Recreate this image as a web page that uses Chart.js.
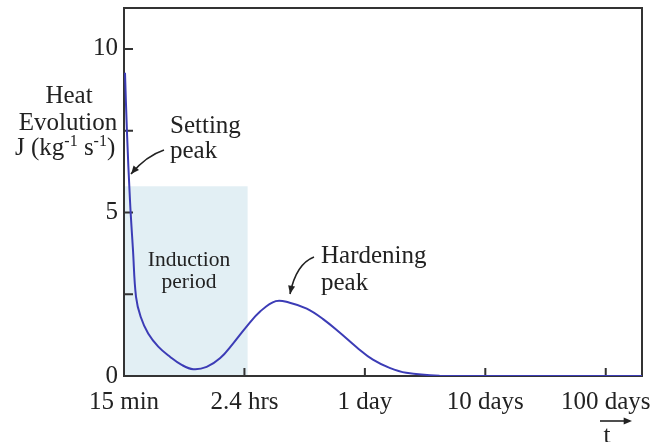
<!DOCTYPE html>
<html>
<head>
<meta charset="utf-8">
<script src="https://cdn.jsdelivr.net/npm/chart.js@4.4.1/dist/chart.umd.min.js"></script>
<style>
    html, body { margin: 0; padding: 0; background: #fff; }
    canvas { display: block; }
</style>
</head>
<body>
<canvas id="chart1" width="670" height="442"></canvas>
<script>
// time in hours (log axis), heat evolution in J/(kg s)
const hours = [0.2446, 0.254, 0.269, 0.285, 0.302, 0.330, 0.381, 0.462, 0.578, 0.723, 0.902, 1.166, 1.503, 1.937, 2.50, 3.24, 4.37, 5.7, 7.9, 10.8, 14.9, 20.5, 28.0, 38.5, 52.9, 100, 240, 4800];
const heat = [9.27, 7.46, 5.38, 3.85, 2.42, 1.81, 1.30, 0.90, 0.59, 0.34, 0.21, 0.28, 0.54, 1.00, 1.51, 1.97, 2.29, 2.24, 2.06, 1.74, 1.32, 0.88, 0.50, 0.25, 0.10, 0.01, 0.0, 0.0];

const tickHours = [0.24, 2.4, 24, 240, 2400];
const tickLabels = ['15 min', '2.4 hrs', '1 day', '10 days', '100 days'];
const yTicks = [0, 2.5, 5, 7.5, 10];

// induction period box
const induction = [0.24, 2.55];
const inductionTop = 5.8;

const serif = '"Liberation Serif", "DejaVu Serif", serif';
const ink = '#222';

function arrowHead(ctx, x, y, angle, size) {
    ctx.beginPath();
    ctx.moveTo(x, y);
    ctx.lineTo(x - size * Math.cos(angle - 0.4), y - size * Math.sin(angle - 0.4));
    ctx.lineTo(x - size * Math.cos(angle + 0.4), y - size * Math.sin(angle + 0.4));
    ctx.closePath();
    ctx.fill();
}

function curvedArrow(ctx, x0, y0, cx, cy, x1, y1) {
    ctx.beginPath();
    ctx.moveTo(x0, y0);
    ctx.quadraticCurveTo(cx, cy, x1, y1);
    ctx.stroke();
    arrowHead(ctx, x1, y1, Math.atan2(y1 - cy, x1 - cx), 9);
}

const decor = {
    id: 'decor',
    beforeDatasetsDraw(chart) {
        const {ctx, chartArea: a, scales: {x, y}} = chart;
        const left = x.getPixelForValue(induction[0]);
        const right = x.getPixelForValue(induction[1]);
        const top = y.getPixelForValue(inductionTop);
        ctx.save();
        ctx.fillStyle = '#e2eff4';
        ctx.fillRect(left, top, right - left, y.getPixelForValue(0) - top);
        ctx.fillStyle = ink;
        ctx.font = '21.5px ' + serif;
        ctx.textAlign = 'center';
        ctx.textBaseline = 'alphabetic';
        ctx.fillText('Induction', 189, 266);
        ctx.fillText('period', 189, 288);

        // frame, under the curve
        ctx.strokeStyle = '#333';
        ctx.lineWidth = 2;
        ctx.strokeRect(a.left, a.top, a.right - a.left, a.bottom - a.top);
        // inward tick marks
        ctx.beginPath();
        yTicks.forEach(v => {
            const py = y.getPixelForValue(v);
            if (v > 0) { ctx.moveTo(a.left, py); ctx.lineTo(a.left + 9, py); }
        });
        tickHours.forEach(v => {
            const px = x.getPixelForValue(v);
            if (v > tickHours[0]) { ctx.moveTo(px, a.bottom + 1); ctx.lineTo(px, a.bottom - 8); }
        });
        ctx.stroke();
        ctx.restore();
    },
    afterDraw(chart) {
        const {ctx} = chart;
        ctx.save();
        ctx.fillStyle = ink;
        ctx.font = '25px ' + serif;
        ctx.textBaseline = 'alphabetic';
        // y axis title
        ctx.textAlign = 'center';
        ctx.fillText('Heat', 69, 103);
        ctx.fillText('Evolution', 68, 130);
        ctx.textAlign = 'left';
        let jx = 15;
        const parts = [['J (kg', 0], ['-1', 1], [' s', 0], ['-1', 1], [')', 0]];
        parts.forEach(([t, sup]) => {
            ctx.font = (sup ? '16px ' : '25px ') + serif;
            ctx.fillText(t, jx, sup ? 146 : 155);
            jx += ctx.measureText(t).width;
        });

        // annotations
        ctx.font = '25px ' + serif;
        ctx.fillText('Setting', 170, 133);
        ctx.fillText('peak', 170, 158);
        ctx.fillText('Hardening', 321, 263);
        ctx.fillText('peak', 321, 290);

        ctx.strokeStyle = ink;
        ctx.lineWidth = 1.6;
        curvedArrow(ctx, 164, 150, 146, 156, 131, 174);
        curvedArrow(ctx, 314, 257, 296, 264, 290, 294);

        // time arrow
        ctx.beginPath();
        ctx.moveTo(600, 421);
        ctx.lineTo(628, 421);
        ctx.stroke();
        arrowHead(ctx, 632, 421, 0, 9);
        ctx.textAlign = 'center';
        ctx.fillText('t', 607, 443);
        ctx.restore();
    }
};

new Chart(document.getElementById('chart1'), {
    type: 'line',
    data: {
        datasets: [{
            data: hours.map((h, i) => ({x: h, y: heat[i]})),
            borderColor: '#3c3cb6',
            borderWidth: 2,
            pointRadius: 0,
            fill: false,
            tension: 0.4
        }]
    },
    options: {
        responsive: false,
        animation: false,
        layout: {padding: {top: 8, right: 28, left: 0, bottom: 0}},
        plugins: {legend: {display: false}, tooltip: {enabled: false}},
        scales: {
            x: {
                type: 'logarithmic',
                min: 0.24,
                max: 4800,
                afterBuildTicks: s => { s.ticks = tickHours.map(v => ({value: v})); },
                afterFit: s => { s.height = 66; s.paddingLeft = 0; s.paddingRight = 0; },
                grid: {display: false, drawTicks: false},
                border: {display: false},
                ticks: {
                    autoSkip: false,
                    maxRotation: 0,
                    padding: 11,
                    color: ink,
                    font: {family: serif, size: 25},
                    callback: (v, i) => tickLabels[i]
                }
            },
            y: {
                min: 0,
                max: 11.25,
                afterBuildTicks: s => { s.ticks = yTicks.map(v => ({value: v})); },
                afterFit: s => { s.width = 124; s.paddingTop = 0; s.paddingBottom = 0; },
                grid: {display: false, drawTicks: false},
                border: {display: false},
                ticks: {
                    padding: 6,
                    color: ink,
                    font: {family: serif, size: 25},
                    callback: v => (v % 5 === 0 ? String(v) : '')
                }
            }
        }
    },
    plugins: [decor]
});
</script>
</body>
</html>
